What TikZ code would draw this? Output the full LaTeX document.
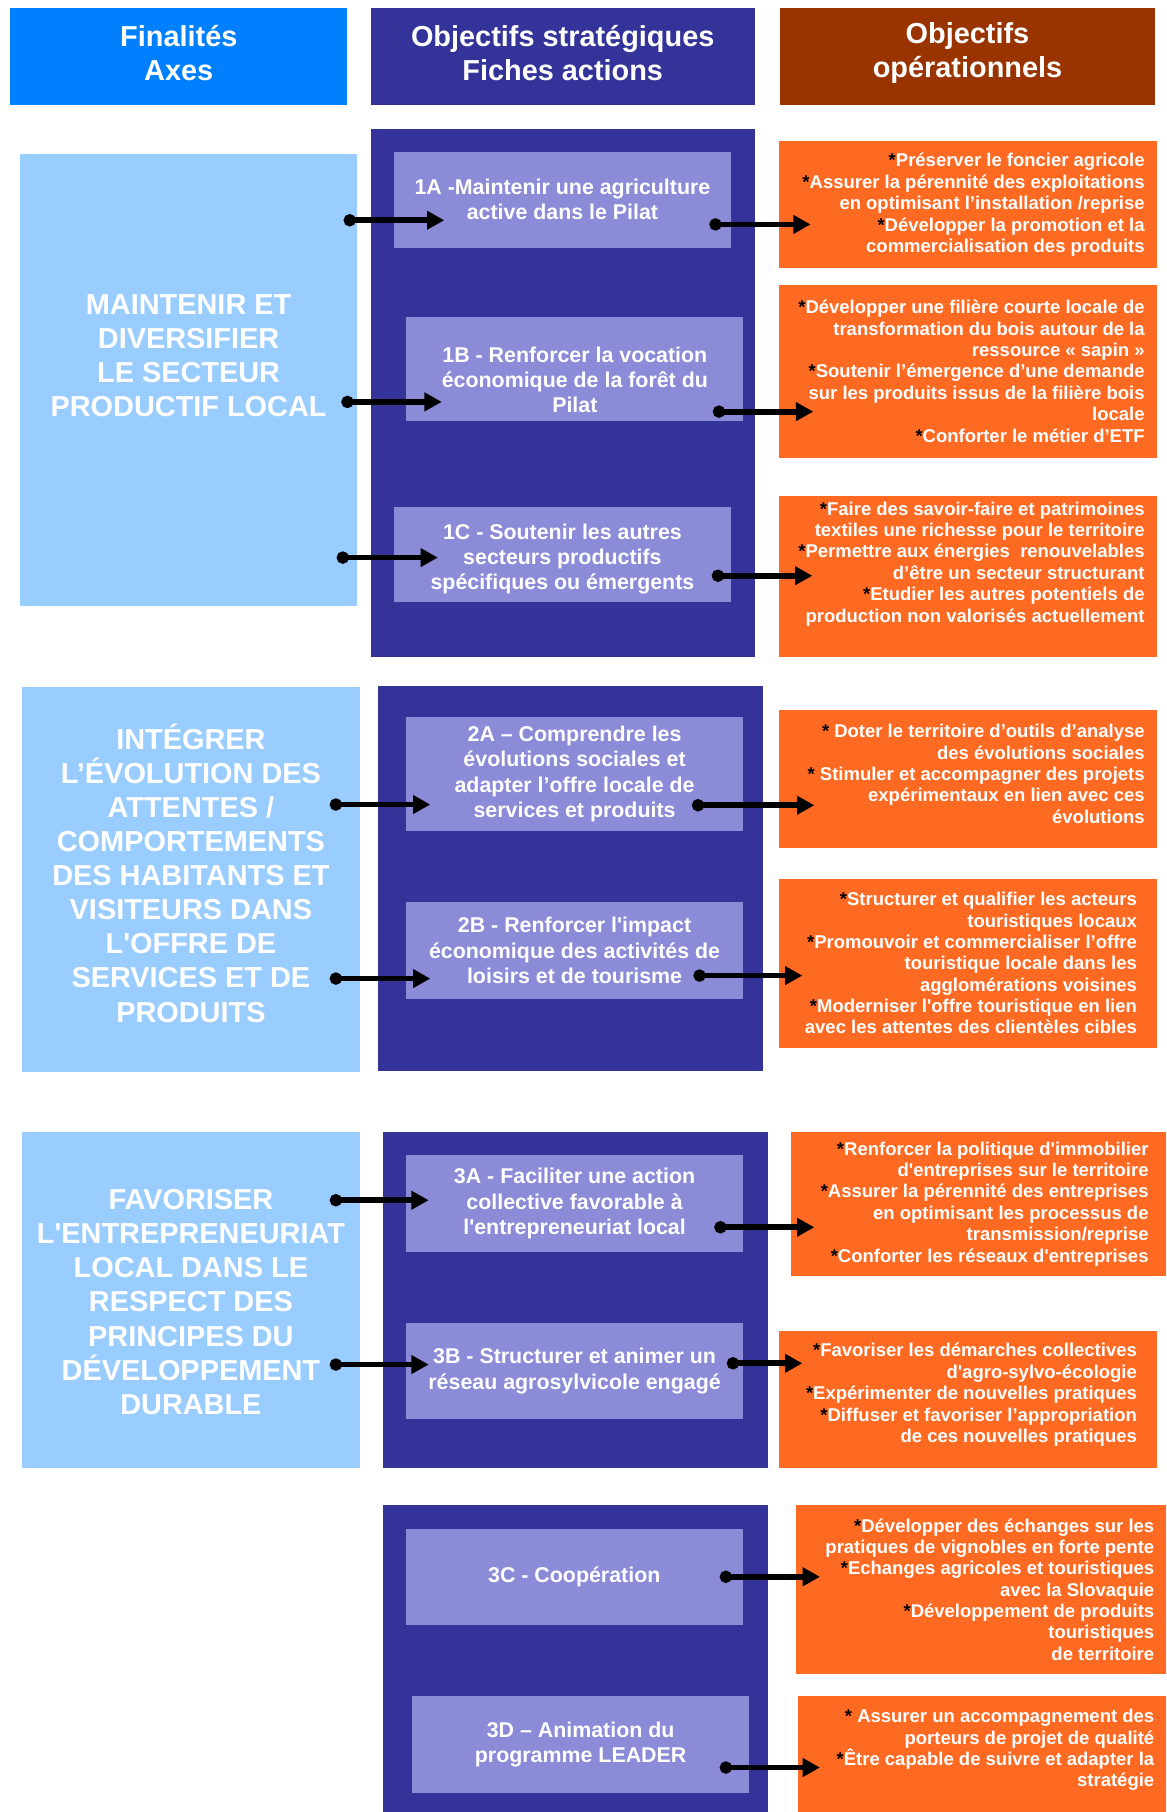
\documentclass[tikz,border=0pt]{standalone}
\usepackage{fontspec}
\setmainfont{Liberation Sans}
\usetikzlibrary{arrows.meta,calc}
\definecolor{cHeadAxe}{RGB}{0,128,255}
\definecolor{cHeadFiche}{RGB}{51,51,153}
\definecolor{cHeadOp}{RGB}{153,51,0}
\definecolor{cAxe}{RGB}{153,204,255}
\definecolor{cFiche}{RGB}{139,139,216}
\definecolor{cOper}{RGB}{255,106,34}
\newcommand\puce{{\color{black}*}}
\newcommand\sq{\textquotesingle}

\begin{document}
\begin{tikzpicture}[x=1pt,y=-1pt,
   bloc/.style 2 args={inner sep=0pt,anchor=north west,minimum width=#1pt,minimum height=#2pt},
   tete/.style={fill=#1},
   tetetxt/.style={text=white,align=center,inner sep=0pt,font=\bfseries\fontsize{25}{30}\selectfont},
   colonne/.style={fill=cHeadFiche},
   axe/.style={fill=cAxe},
   axetxt/.style={text=white,align=center,inner sep=0pt,font=\bfseries\fontsize{25}{29.5}\selectfont},
   fichetxt/.style={text=white,align=center,font=\bfseries\fontsize{18.5}{21.8}\selectfont},
   fiche/.style={fill=cFiche,fichetxt},
   oper/.style={fill=cOper},
   opertxt/.style={text=white,align=right,anchor=east,inner sep=0pt,font=\bfseries\fontsize{16}{18.5}\selectfont},
   link/.style={line width=5pt,{Circle[length=10.5pt]}-{Triangle[length=15pt,width=15.5pt]}}]
 \useasboundingbox (0,0) rectangle (1009,1568);
 % column headers
 \node[tete=cHeadAxe,bloc={292}{83.5}] (hfin) at (8.5,7) {};
 \node[tete=cHeadFiche,bloc={332.5}{83.5}] (hobj) at (320.5,7) {};
 \node[tete=cHeadOp,bloc={324}{83.5}] (hop) at (675,7) {};
 \node[tetetxt] (hfintxt) at ([yshift=3pt]hfin.center) {Finalités\\Axes};
 \node[tetetxt] (hobjtxt) at ([yshift=3pt]hobj.center) {Objectifs stratégiques\\Fiches actions};
 \node[tetetxt] (hoptxt) at ([yshift=3pt]hop.center) {Objectifs\\opérationnels};
 % dark columns behind the fiches
 \foreach \n/\x/\y/\h in {1/320.5/111/457, 2/327/593.5/333, 3/331/979/291, 4/331/1302/266}
   \node[colonne,bloc={333}{\h}] (col\n) at (\x,\y) {};
 % axes
 \node[axe,bloc={292}{391.5}] (ax1) at (17,133) {};
 \node[axe,bloc={292}{333.5}] (ax2) at (19,594) {};
 \node[axe,bloc={292}{291}] (ax3) at (19,979) {};
 \node[axetxt] (ax1txt) at ([yshift=21pt]ax1.center) {MAINTENIR ET\\DIVERSIFIER\\LE SECTEUR\\PRODUCTIF LOCAL};
 \node[axetxt] (ax2txt) at ([yshift=5.5pt]ax2.center) {INTÉGRER\\L’ÉVOLUTION DES\\ATTENTES /\\COMPORTEMENTS\\DES HABITANTS ET\\VISITEURS DANS\\L\sq OFFRE DE\\SERVICES ET DE\\PRODUITS};
 \node[axetxt] (ax3txt) at ([yshift=-2pt]ax3.center) {FAVORISER\\L\sq ENTREPRENEURIAT\\LOCAL DANS LE\\RESPECT DES\\PRINCIPES DU\\DÉVELOPPEMENT\\DURABLE};
 % fiches actions
 \node[fiche,bloc={291}{83}] (f1a) at (341,131) {1A -Maintenir une agriculture\\active dans le Pilat};
 \node[fiche,bloc={291.5}{89.5}] (f1b) at (351.5,274.5) {};
 \node[fichetxt,inner sep=0pt] (f1btxt) at ([yshift=-9pt]f1b.center) {1B - Renforcer la vocation\\économique de la forêt du\\Pilat};
 \node[fiche,bloc={291}{82.5}] (f1c) at (341,438.5) {};
 \node[fichetxt,inner sep=0pt] (f1ctxt) at ([yshift=-4pt]f1c.center) {1C - Soutenir les autres\\secteurs productifs\\spécifiques ou émergents};
 \node[fiche,bloc={292}{99}] (f2a) at (351,620) {2A – Comprendre les\\évolutions sociales et\\adapter l’offre locale de\\services et produits};
 \node[fiche,bloc={292}{83.5}] (f2b) at (351,780.5) {2B - Renforcer l\sq impact\\économique des activités de\\loisirs et de tourisme};
 \node[fiche,bloc={292}{83.5}] (f3a) at (351,999.5) {3A - Faciliter une action\\collective favorable à\\l\sq entrepreneuriat local};
 \node[fiche,bloc={292}{83.5}] (f3b) at (351,1144.5) {3B - Structurer et animer un\\réseau agrosylvicole engagé};
 \node[fiche,bloc={291.5}{83.5}] (f3c) at (351,1322.5) {3C - Coopération};
 \node[fiche,bloc={291.5}{84}] (f3d) at (356.5,1467.5) {3D – Animation du\\programme LEADER};
 % objectifs operationnels
 \node[oper,bloc={327}{110}] (o1a) at (674,122) {};
 \node[oper,bloc={327}{150}] (o1b) at (674,246) {};
 \node[oper,bloc={327}{139.5}] (o1c) at (674,429) {};
 \node[oper,bloc={327}{119}] (o2a) at (674,614.5) {};
 \node[oper,bloc={327}{146.5}] (o2b) at (674,760) {};
 \node[oper,bloc={324.5}{125}] (o3a) at (684.5,979) {};
 \node[oper,bloc={327}{118.5}] (o3b) at (674,1151.5) {};
 \node[oper,bloc={320}{146.5}] (o3c) at (689,1302) {};
 \node[oper,bloc={319}{100.5}] (o3d) at (690,1467.5) {};
 \node[opertxt] (o1atxt) at ([xshift=-10.7pt]o1a.east) {\puce Préserver le foncier agricole\\\puce Assurer la pérennité des exploitations\\en optimisant l’installation /reprise\\\puce Développer la promotion et la\\commercialisation des produits};
 \node[opertxt] (o1btxt) at ([xshift=-10.7pt]o1b.east) {\puce Développer une filière courte locale de\\transformation du bois autour de la\\ressource « sapin »\\\puce Soutenir l’émergence d’une demande\\sur les produits issus de la filière bois\\locale\\\puce Conforter le métier d’ETF};
 \node[opertxt] (o1ctxt) at ([xshift=-10.7pt,yshift=11pt]o1c.east) {\puce Faire des savoir-faire et patrimoines\\textiles une richesse pour le territoire\\\puce Permettre aux énergies\ \ renouvelables\\d’être un secteur structurant\\\puce Etudier les autres potentiels de\\production non valorisés actuellement};
 \node[opertxt] (o2atxt) at ([xshift=-10.7pt,yshift=4.5pt]o2a.east) {\puce{} Doter le territoire d’outils d’analyse\\des évolutions sociales\\\puce{} Stimuler et accompagner des projets\\expérimentaux en lien avec ces\\évolutions};
 \node[opertxt] (o2btxt) at ([xshift=-17.4pt]o2b.east) {\puce Structurer et qualifier les acteurs\\touristiques locaux\\\puce Promouvoir et commercialiser l’offre\\touristique locale dans les\\agglomérations voisines\\\puce Moderniser l\sq offre touristique en lien\\avec les attentes des clientèles cibles};
 \node[opertxt] (o3atxt) at ([xshift=-15.3pt]o3a.east) {\puce Renforcer la politique d\sq immobilier\\d\sq entreprises sur le territoire\\\puce Assurer la pérennité des entreprises\\en optimisant les processus de\\transmission/reprise\\\puce Conforter les réseaux d\sq entreprises};
 \node[opertxt] (o3btxt) at ([xshift=-17.4pt,yshift=4pt]o3b.east) {\puce Favoriser les démarches collectives\\d\sq agro-sylvo-écologie\\\puce Expérimenter de nouvelles pratiques\\\puce Diffuser et favoriser l’appropriation\\de ces nouvelles pratiques};
 \node[opertxt] (o3ctxt) at ([xshift=-10.4pt]o3c.east) {\puce Développer des échanges sur les\\pratiques de vignobles en forte pente\\\puce Echanges agricoles et touristiques\\avec la Slovaquie\\\puce Développement de produits\\touristiques\\de territoire};
 \node[opertxt] (o3dtxt) at ([xshift=-10.4pt,yshift=3.5pt]o3d.east) {\puce{} Assurer un accompagnement des\\porteurs de projet de qualité\\\puce Être capable de suivre et adapter la\\stratégie};
 % arrows axe -> fiche
 \foreach \a/\f/\sx/\tx/\dy in {1/1a/-12/43.5/-17.9, 1/1b/-14/30.8/-28.35, 1/1c/-18/37.9/-2.55,
     2/2a/-26/21.4/-26.5, 2/2b/-26/21.4/-24.35, 3/3a/-26/20/2.85, 3/3b/-26/20/5.65} {
   \coordinate (in\f) at ([xshift=\tx pt,yshift=\dy pt]f\f.west);
   \draw[link] ([xshift=\sx pt]ax\a.east |- in\f) -- (in\f);
 }
 % arrows fiche -> objectifs operationnels
 \foreach \f/\sx/\dy/\tx in {1a/-18.5/-21.5/27.5, 1b/-26.5/-36.75/29.8, 1c/-16.4/-18.25/29,
     2a/-44.6/-27.1/30.7, 2b/-43.3/-21.75/20.3, 3a/-25.2/-20.55/20.2, 3b/-14.4/6.75/20.3,
     3c/-20/0/20.6, 3d/-25.5/-19.8/19.6} {
   \coordinate (out\f) at ([xshift=\sx pt,yshift=\dy pt]f\f.east);
   \draw[link] (out\f) -- ([xshift=\tx pt]o\f.west |- out\f);
 }
\end{tikzpicture}
\end{document}
